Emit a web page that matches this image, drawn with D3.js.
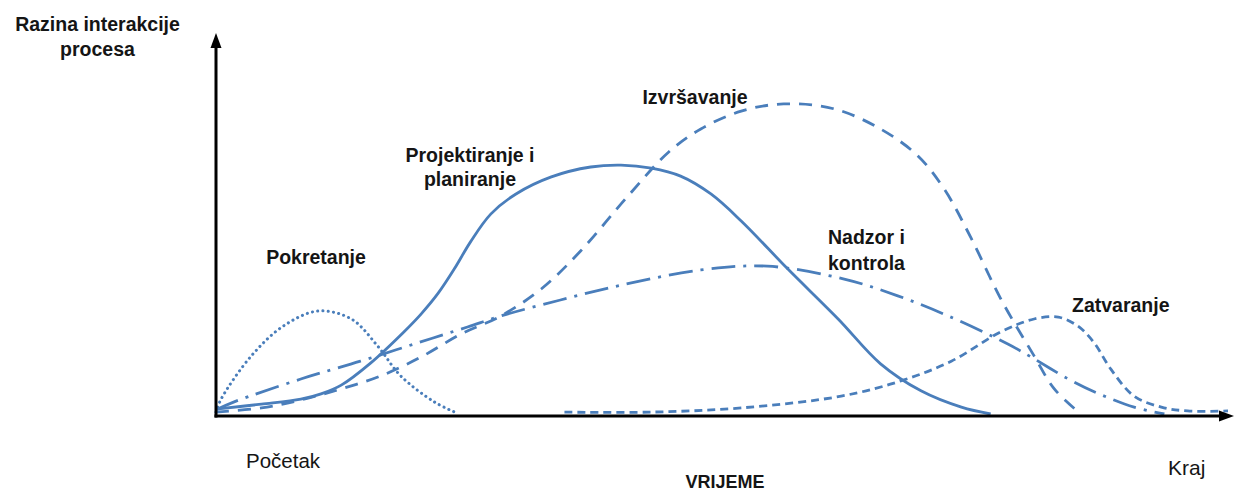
<!DOCTYPE html>
<html><head><meta charset="utf-8">
<script src="https://cdn.jsdelivr.net/npm/d3@7"></script>
<style>body{margin:0;background:#fff}svg{display:block}text{font-family:"Liberation Sans",Arial,sans-serif;fill:#151515}</style>
</head><body>
<svg id="c" width="1234" height="492"></svg>
<script>
// Time axis 0..100, interaction level 0..100
const pokretanjeX = [0, 0.5, 3.5, 6.7, 10.1, 13.4, 16.0, 18.3, 21.6, 23.8];
const pokretanjeY = [0.5, 3.9, 15.3, 23.2, 27.1, 25.0, 17.9, 10.0, 3.2, 0.3];

const projektiranjeX = [0, 4.5, 8.4, 10.4, 12.4, 15.3, 18.6, 20.3, 22.0, 23.6, 25.2, 27.2, 29.7, 33.2, 37.1, 40.1, 43.1, 46.0, 49.0, 52.0, 56.6, 61.6, 65.8, 69.8, 73.8, 76.7];
const projektiranjeY = [1.3, 2.6, 3.9, 5.3, 7.6, 13.4, 21.6, 26.3, 31.8, 38.2, 45.3, 52.6, 57.9, 62.4, 65.0, 65.5, 64.7, 62.6, 57.9, 50.8, 38.2, 25.0, 13.2, 6.1, 1.8, 0];

const izvrsavanjeX = [0, 4.5, 8.4, 12.4, 16.3, 20.3, 24.3, 28.2, 32.2, 36.1, 40.8, 44.8, 48.0, 52.0, 56.2, 61.2, 65.8, 69.5, 72.1, 74.8, 77.7, 81.0, 83.0, 85.4];
const izvrsavanjeY = [0.5, 1.6, 3.7, 6.6, 10.0, 15.0, 21.1, 25.8, 32.9, 42.9, 57.4, 68.9, 75.0, 79.7, 81.6, 80.3, 75.0, 67.9, 59.2, 46.1, 30.3, 15.3, 6.6, 0.5];

const nadzorX = [0, 1.8, 8.4, 14.3, 19.6, 24.9, 28.2, 34.1, 40.1, 48.0, 54.6, 62.2, 67.5, 72.5, 78.4, 80.7, 84.4, 87.0, 90.9, 93.9];
const nadzorY = [1.1, 3.2, 9.2, 13.9, 18.4, 22.9, 25.8, 30.0, 33.9, 37.9, 38.9, 35.5, 31.1, 25.8, 18.4, 15.0, 9.2, 5.8, 1.8, 0];

const zatvaranjeX = [34.5, 43.1, 52.0, 61.9, 67.8, 72.8, 77.7, 81.0, 83.4, 85.3, 86.9, 88.6, 90.9, 93.6, 96.2, 100.2];
const zatvaranjeY = [0.5, 0.5, 1.6, 4.7, 8.7, 13.9, 21.6, 25.0, 25.5, 23.2, 18.9, 11.8, 4.7, 1.8, 0.8, 0.8];

const phaseNames = ["Pokretanje", "Projektiranje i|planiranje", "Izvršavanje", "Nadzor i|kontrola", "Zatvaranje"];
const axisTitleY = "Razina interakcije|procesa";
const axisTitleX = "VRIJEME";
const startLabel = "Početak";
const endLabel = "Kraj";

const svg = d3.select("#c");
const x = d3.scaleLinear().domain([0, 100]).range([216, 1226]);
const y = d3.scaleLinear().domain([0, 100]).range([414, 34]);
const blue = "#4a7ebb";

const series = [
  {xs: pokretanjeX, ys: pokretanjeY, dash: "0.1 5.2", cap: "round", w: 3},
  {xs: projektiranjeX, ys: projektiranjeY, dash: null, cap: "butt", w: 2.8},
  {xs: izvrsavanjeX, ys: izvrsavanjeY, dash: "13 9", cap: "butt", w: 2.8},
  {xs: nadzorX, ys: nadzorY, dash: "24 8 3 8", cap: "butt", w: 2.8},
  {xs: zatvaranjeX, ys: zatvaranjeY, dash: "8 5", cap: "butt", w: 2.8}
];

const line = d3.line().x(d => x(d[0])).y(d => y(d[1])).curve(d3.curveCatmullRom.alpha(0.5));

series.forEach(s => {
  const pts = s.xs.map((v, i) => [v, s.ys[i]]);
  svg.append("path").attr("d", line(pts)).attr("fill", "none")
    .attr("stroke", blue).attr("stroke-width", s.w)
    .attr("stroke-linecap", s.cap)
    .attr("stroke-dasharray", s.dash);
});

// axes with arrows
const axisG = svg.append("g");
const x0 = x(0) , y0 = y(0) + 2;
axisG.append("line").attr("x1", x0).attr("y1", y0 + 1.5).attr("x2", x0).attr("y2", 46)
  .attr("stroke", "#000").attr("stroke-width", 3);
axisG.append("path").attr("d", `M${x0},33 L${x0 - 5.5},48 L${x0 + 5.5},48 Z`).attr("fill", "#000");
axisG.append("line").attr("x1", x0 - 1.5).attr("y1", y0).attr("x2", 1222).attr("y2", y0)
  .attr("stroke", "#000").attr("stroke-width", 3);
axisG.append("path").attr("d", `M1234,${y0} L1219,${y0 - 5.5} L1219,${y0 + 5.5} Z`).attr("fill", "#000");

function multiline(txt, px, py, anchor, lh, weight, size) {
  const t = svg.append("text").attr("x", px).attr("y", py).attr("text-anchor", anchor)
    .attr("font-weight", weight).attr("font-size", size);
  txt.split("|").forEach((s, i) => {
    t.append("tspan").attr("x", px).attr("dy", i ? lh : 0).text(s);
  });
}

multiline(axisTitleY, 97.5, 31, "middle", 25, "bold", 19.5);
multiline(phaseNames[0], 316, 264, "middle", 25, "bold", 19.5);
multiline(phaseNames[1], 470, 162, "middle", 24, "bold", 19.5);
multiline(phaseNames[2], 695, 104, "middle", 25, "bold", 19.5);
multiline(phaseNames[3], 828, 244, "start", 26, "bold", 19.5);
multiline(phaseNames[4], 1072, 312, "start", 25, "bold", 19.5);
multiline(axisTitleX, 725, 488, "middle", 25, "bold", 18);
multiline(startLabel, 246, 468, "start", 25, "normal", 20.5);
multiline(endLabel, 1168, 475, "start", 25, "normal", 21);
</script>
</body></html>
